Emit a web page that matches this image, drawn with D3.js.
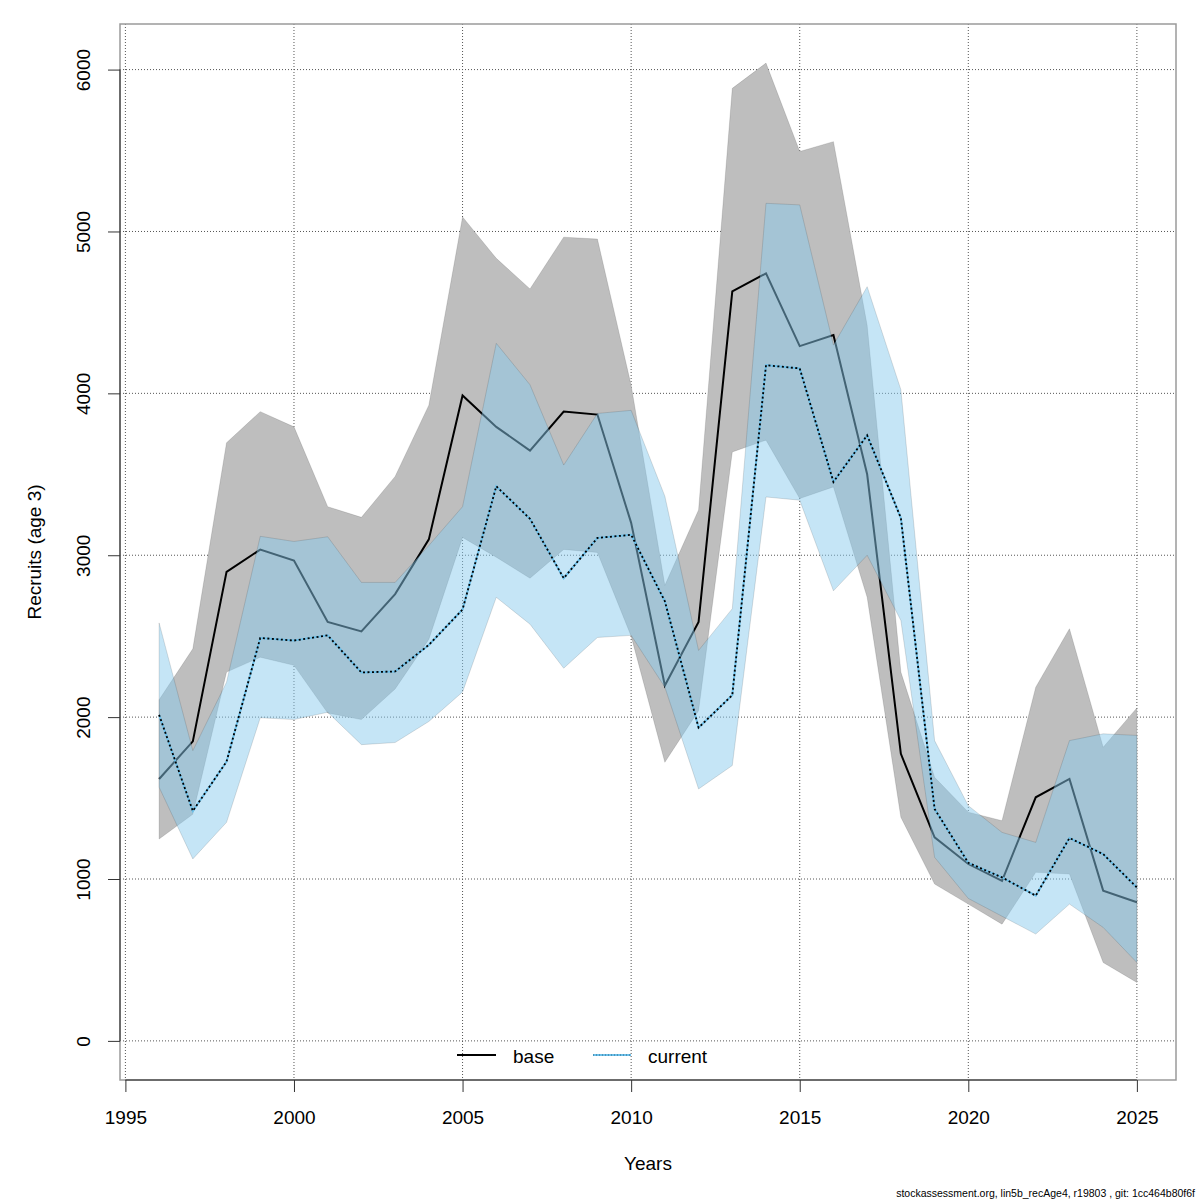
<!DOCTYPE html>
<html>
<head>
<meta charset="utf-8">
<script src="https://cdn.jsdelivr.net/npm/d3@7"></script>
<style>
    body { margin: 0; background: #fff; }
    text { font-family: "Liberation Sans", Arial, Helvetica, sans-serif; fill: #000; }
</style>
</head>
<body>
<script>
// recruitment estimates, base run vs current run, with confidence bands
var years = [1996, 1997, 1998, 1999, 2000, 2001, 2002, 2003, 2004, 2005,
             2006, 2007, 2008, 2009, 2010, 2011, 2012, 2013, 2014, 2015,
             2016, 2017, 2018, 2019, 2020, 2021, 2022, 2023, 2024, 2025];

var base    = [1618, 1850, 2897, 3035, 2967, 2588, 2529, 2760, 3098, 3987,
               3793, 3646, 3888, 3869, 3200, 2195, 2588, 4630, 4741, 4292,
               4360, 3500, 1773, 1257, 1093,  989, 1505, 1618,  928,  856];
var baseLo  = [1247, 1400, 2278, 2370, 2320, 2025, 1985, 2174, 2480, 3110,
               2988, 2858, 3036, 3017, 2500, 1721, 2040, 3638, 3711, 3350,
               3422, 2740, 1381,  969,  845,  721, 1041, 1031,  484,  361];
var baseHi  = [2107, 2422, 3695, 3887, 3793, 3300, 3234, 3487, 3927, 5090,
               4834, 4645, 4965, 4953, 4050, 2814, 3280, 5884, 6040, 5494,
               5555, 4420, 2278, 1628, 1413, 1360, 2185, 2546, 1814, 2057];

var current = [2014, 1420, 1725, 2489, 2473, 2505, 2276, 2282, 2446, 2665,
               3426, 3225, 2858, 3107, 3126, 2716, 1935, 2136, 4174, 4154,
               3453, 3741, 3230, 1433, 1100, 1010,  897, 1253, 1154,  948];
var curLo   = [1567, 1124, 1350, 1996, 1985, 2030, 1830, 1843, 1973, 2155,
               2740, 2574, 2302, 2492, 2505, 2185, 1556, 1701, 3360, 3340,
               2780, 3000, 2597, 1134,  880,  770,  660,  845,  701,  484];
var curHi   = [2582, 1793, 2216, 3117, 3085, 3114, 2832, 2832, 3060, 3300,
               4309, 4053, 3557, 3876, 3895, 3365, 2412, 2670, 5174, 5164,
               4298, 4659, 4023, 1855, 1453, 1288, 1226, 1855, 1897, 1887];

var xTicks = [1995, 2000, 2005, 2010, 2015, 2020, 2025];
var yTicks = [0, 1000, 2000, 3000, 4000, 5000, 6000];
var legendLabels = ["base", "current"];

(function(){

    var W = 1200, H = 1200;
    var left = 120, right = 1176, top = 24, bottom = 1080;

    var svg = d3.select("body").append("svg")
        .attr("width", W)
        .attr("height", H);

    // R style 4% padding on both axes
    var xr = d3.extent(years), xp = (xr[1] - xr[0]) * 0.04;
    var x = d3.scaleLinear().domain([xr[0] - xp, xr[1] + xp]).range([left, right]);
    var ymax = d3.max(baseHi.concat(curHi));
    var y = d3.scaleLinear().domain([-0.04 * ymax, 1.04 * ymax]).range([bottom, top]);

    drawGrid();
    drawBands();
    drawAxes();
    drawLegend();
    drawTexts();

    function rows(lo, hi){
        return years.map(function(d, i){ return {yr: d, lo: lo[i], hi: hi[i]}; });
    }

    function drawGrid(){
        var g = svg.append("g").attr("class", "grid");
        g.selectAll("line.v").data(xTicks).enter().append("line")
            .attr("x1", function(d){ return x(d); })
            .attr("x2", function(d){ return x(d); })
            .attr("y1", top).attr("y2", bottom)
            .attr("stroke", "#555").attr("stroke-width", 1)
            .attr("stroke-dasharray", "1,2");
        g.selectAll("line.h").data(yTicks).enter().append("line")
            .attr("x1", left).attr("x2", right)
            .attr("y1", function(d){ return y(d); })
            .attr("y2", function(d){ return y(d); })
            .attr("stroke", "#555").attr("stroke-width", 1)
            .attr("stroke-dasharray", "1,2");
    }

    function drawBands(){
        var area = d3.area()
            .x(function(d){ return x(d.yr); })
            .y0(function(d){ return y(d.lo); })
            .y1(function(d){ return y(d.hi); });
        var line = d3.line()
            .x(function(d, i){ return x(years[i]); })
            .y(function(d){ return y(d); });

        // base band then base line
        svg.append("path")
            .datum(rows(baseLo, baseHi))
            .attr("d", area)
            .attr("fill", "rgb(190,190,190)")
            .attr("stroke", "rgba(0,0,0,0.12)")
            .attr("stroke-width", 1);
        svg.append("path")
            .datum(base)
            .attr("d", line)
            .attr("fill", "none")
            .attr("stroke", "#000")
            .attr("stroke-width", 2);

        // current band on top, semi transparent
        svg.append("path")
            .datum(rows(curLo, curHi))
            .attr("d", area)
            .attr("fill", "rgba(136,201,236,0.49)")
            .attr("stroke", "rgba(0,0,0,0.12)")
            .attr("stroke-width", 1);
        svg.append("path")
            .datum(current)
            .attr("d", line)
            .attr("fill", "none")
            .attr("stroke", "#6cc0ea")
            .attr("stroke-width", 2);
        svg.append("path")
            .datum(current)
            .attr("d", line)
            .attr("fill", "none")
            .attr("stroke", "#000")
            .attr("stroke-width", 1.8)
            .attr("stroke-dasharray", "2,2.5");
    }

    function drawAxes(){
        // plot box
        svg.append("rect")
            .attr("x", left).attr("y", top)
            .attr("width", right - left).attr("height", bottom - top)
            .attr("fill", "none")
            .attr("stroke", "#9a9a9a")
            .attr("stroke-width", 1.5);

        var xa = svg.append("g")
            .attr("transform", "translate(0," + bottom + ")")
            .call(d3.axisBottom(x).tickValues(xTicks).tickSize(12).tickPadding(19)
                .tickFormat(d3.format("d")));
        xa.select(".domain")
            .attr("d", "M" + x(xTicks[0]) + ",0H" + x(xTicks[xTicks.length - 1]))
            .attr("stroke", "#555").attr("stroke-width", 1.5);
        xa.selectAll(".tick line").attr("stroke", "#333");
        xa.selectAll("text")
            .attr("font-size", 19)
            .attr("fill", "#000")
            .style("font-family", "'Liberation Sans', Arial, sans-serif");

        var ya = svg.append("g")
            .attr("transform", "translate(" + left + ",0)")
            .call(d3.axisLeft(y).tickValues(yTicks).tickSize(12).tickFormat(d3.format("d")));
        ya.select(".domain")
            .attr("d", "M0," + y(yTicks[0]) + "V" + y(yTicks[yTicks.length - 1]))
            .attr("stroke", "#555").attr("stroke-width", 1.5);
        ya.selectAll(".tick line").attr("stroke", "#333");
        ya.selectAll("text")
            .attr("x", null).attr("dy", null)
            .attr("transform", "translate(-37,0) rotate(-90)")
            .attr("text-anchor", "middle")
            .attr("dominant-baseline", "central")
            .attr("font-size", 19)
            .attr("fill", "#000")
            .style("font-family", "'Liberation Sans', Arial, sans-serif");
    }

    function drawLegend(){
        var ly = 1056;
        var g = svg.append("g").attr("class", "legend");
        // base entry
        g.append("line")
            .attr("x1", 457).attr("x2", 496).attr("y1", ly - 1).attr("y2", ly - 1)
            .attr("stroke", "#000").attr("stroke-width", 2.2);
        g.append("text")
            .attr("x", 513).attr("y", ly)
            .attr("dominant-baseline", "central")
            .attr("font-size", 19)
            .text(legendLabels[0]);
        // current entry
        g.append("line")
            .attr("x1", 593).attr("x2", 631).attr("y1", ly - 1).attr("y2", ly - 1)
            .attr("stroke", "#6cc0ea").attr("stroke-width", 2);
        g.append("line")
            .attr("x1", 593).attr("x2", 631).attr("y1", ly - 1).attr("y2", ly - 1)
            .attr("stroke", "#2b6a8a").attr("stroke-width", 1.2)
            .attr("stroke-dasharray", "1,2");
        g.append("text")
            .attr("x", 648).attr("y", ly)
            .attr("dominant-baseline", "central")
            .attr("font-size", 19)
            .text(legendLabels[1]);
    }

    function drawTexts(){
        svg.append("text")
            .attr("x", (left + right) / 2).attr("y", 1170)
            .attr("text-anchor", "middle")
            .attr("font-size", 19)
            .text("Years");
        svg.append("text")
            .attr("transform", "translate(43," + ((top + bottom) / 2) + ") rotate(-90)")
            .attr("dy", "-0.1em")
            .attr("text-anchor", "middle")
            .attr("font-size", 19)
            .text("Recruits (age 3)");
        svg.append("text")
            .attr("x", 1195).attr("y", 1197)
            .attr("text-anchor", "end")
            .attr("font-size", 10.5)
            .text("stockassessment.org, lin5b_recAge4, r19803 , git: 1cc464b80f6f");
    }
}());
</script>
</body>
</html>
